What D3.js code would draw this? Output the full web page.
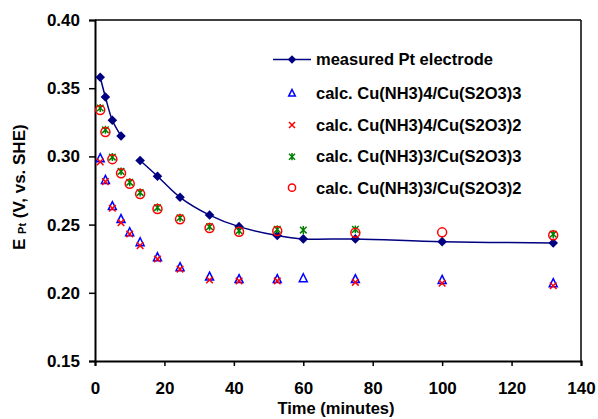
<!DOCTYPE html>
<html>
<head>
<meta charset="utf-8">
<script src="https://cdn.jsdelivr.net/npm/d3@7"></script>
<style>
  body { margin: 0; background: #fff; }
  svg { display: block; font-family: "Liberation Sans", Arial, sans-serif; font-weight: bold; }
</style>
</head>
<body>
<svg id="chart" width="598" height="419"></svg>
<script>
// ---- data ----
const time = [1.5, 3, 5, 7.5, 10, 13, 18, 24.5, 33, 41.5, 52.5, 60, 75, 100, 132];
const measured = [0.358, 0.3435, 0.3265, 0.315, null, 0.297, 0.2855, 0.270, 0.257, 0.2485, 0.242, 0.2395, 0.2395, 0.2375, 0.2365];
const nh34_s2o33 = [0.2986, 0.2827, 0.2635, 0.254, 0.2443, 0.237, 0.226, 0.2187, 0.2118, 0.210, 0.210, 0.2106, 0.210, 0.2094, 0.207];
const nh34_s2o32 = [0.296, 0.2815, 0.262, 0.2514, 0.2431, 0.2346, 0.2248, 0.2174, 0.2094, 0.2087, 0.2087, null, 0.2077, 0.207, 0.2052];
const nh33_s2o33 = [0.3355, 0.3195, 0.2995, 0.289, 0.281, 0.2735, 0.2625, 0.255, 0.2485, 0.2455, 0.2465, 0.246, 0.2465, null, 0.243];
const nh33_s2o32 = [0.334, 0.3179, 0.298, 0.2876, 0.280, 0.2724, 0.2614, 0.2539, 0.2475, 0.2448, 0.2453, null, 0.244, 0.2443, 0.2422];
const seriesNames = ["measured Pt electrode", "calc. Cu(NH3)4/Cu(S2O3)3", "calc. Cu(NH3)4/Cu(S2O3)2", "calc. Cu(NH3)3/Cu(S2O3)3", "calc. Cu(NH3)3/Cu(S2O3)2"];
const xTicks = [0, 20, 40, 60, 80, 100, 120, 140];
const yTicks = [0.15, 0.20, 0.25, 0.30, 0.35, 0.40];

// ---- layout ----
const svg = d3.select("#chart");
const L = 95, R = 581, T = 20, B = 361;
const x = d3.scaleLinear().domain([0, 140]).range([L, R]);
const y = d3.scaleLinear().domain([0.15, 0.40]).range([B, T]);

// frame top/right
svg.append("line").attr("x1", L).attr("x2", R).attr("y1", T).attr("y2", T).attr("stroke", "#000").attr("stroke-width", 1.5);
svg.append("line").attr("x1", R).attr("x2", R).attr("y1", T).attr("y2", B).attr("stroke", "#000").attr("stroke-width", 1.5);

// axes
const xAxis = svg.append("g").attr("transform", `translate(0,${B})`)
  .call(d3.axisBottom(x).tickValues(xTicks).tickSize(5).tickPadding(16).tickFormat(d3.format("d")));
const yAxis = svg.append("g").attr("transform", `translate(${L},0)`)
  .call(d3.axisLeft(y).tickValues(yTicks).tickSize(6).tickPadding(9).tickFormat(d3.format(".2f")));
[xAxis, yAxis].forEach(g => {
  g.select(".domain").attr("stroke-width", 2).attr("stroke", "#000");
  g.selectAll(".tick line").attr("stroke", "#000").attr("stroke-width", 1.5);
  g.selectAll(".tick text").attr("font-size", 17).attr("font-weight", "bold").attr("fill", "#000")
    .attr("font-family", "Liberation Sans, Arial, sans-serif");
});

// axis titles
svg.append("text").attr("x", (L + R) / 2 - 2).attr("y", 414).attr("text-anchor", "middle")
  .attr("font-size", 16.5).text("Time (minutes)");
const yt = svg.append("text").attr("transform", "translate(25,250) rotate(-90)").attr("font-size", 17);
yt.append("tspan").text("E ");
yt.append("tspan").attr("font-size", 11).attr("dy", 1).text("Pt");
yt.append("tspan").attr("dy", -1).text(" (V, vs. SHE)");

// marker generators
const diamond = s => `M0,${-s}L${s},0L0,${s}L${-s},0Z`;
const tri = s => `M0,${-s * 1.15}L${s},${s * 0.85}L${-s},${s * 0.85}Z`;
const cross = s => `M${-s},${-s}L${s},${s}M${-s},${s}L${s},${-s}`;
const star = s => `M${-s},${-s}L${s},${s}M${-s},${s}L${s},${-s}M0,${-s * 1.2}L0,${s * 1.2}`;

// measured line (smooth, gap where missing)
const mdata = time.map((t, i) => ({ t, v: measured[i] }));
const line = d3.line().defined(d => d.v != null).x(d => x(d.t)).y(d => y(d.v)).curve(d3.curveCatmullRom.alpha(0.5));
svg.append("path").datum(mdata).attr("d", line).attr("fill", "none").attr("stroke", "#000080").attr("stroke-width", 1.5);
svg.append("g").selectAll("path").data(mdata.filter(d => d.v != null)).join("path")
  .attr("transform", d => `translate(${x(d.t)},${y(d.v)})`).attr("d", diamond(4.8)).attr("fill", "#000080");

function drawSeries(vals, shape, color, fill) {
  const data = time.map((t, i) => ({ t, v: vals[i] })).filter(d => d.v != null);
  svg.append("g").selectAll("path").data(data).join("path")
    .attr("transform", d => `translate(${x(d.t)},${y(d.v)})`).attr("d", shape)
    .attr("fill", fill).attr("stroke", color).attr("stroke-width", 1.5);
}
drawSeries(nh34_s2o33, tri(4), "#0000FF", "none");
drawSeries(nh34_s2o32, cross(3.3), "#FF0000", "none");
drawSeries(nh33_s2o33, star(3.3), "#008000", "none");
drawSeries(nh33_s2o32, "M4.5,0A4.5,4.5 0 1,1 -4.5,0A4.5,4.5 0 1,1 4.5,0Z", "#FF0000", "none");

// legend
const lg = svg.append("g");
lg.append("line").attr("x1", 273).attr("x2", 311).attr("y1", 59.5).attr("y2", 59.5).attr("stroke", "#000080").attr("stroke-width", 1.5);
lg.append("path").attr("transform", "translate(292,59.5)").attr("d", diamond(4.2)).attr("fill", "#000080");
const legSym = [
  { y: 93.3, d: tri(3.3), c: "#0000FF" },
  { y: 125, d: cross(3), c: "#FF0000" },
  { y: 156.7, d: star(3), c: "#008000" },
  { y: 187.7, d: "M3.6,0A3.6,3.6 0 1,1 -3.6,0A3.6,3.6 0 1,1 3.6,0Z", c: "#FF0000" }
];
legSym.forEach(s => lg.append("path").attr("transform", `translate(292,${s.y})`).attr("d", s.d)
  .attr("fill", "none").attr("stroke", s.c).attr("stroke-width", 1.5));
const legY = [65, 99.3, 130.7, 162.3, 194];
seriesNames.forEach((n, i) => lg.append("text").attr("x", 316).attr("y", legY[i]).attr("font-size", 16.5).text(n));
</script>
</body>
</html>
